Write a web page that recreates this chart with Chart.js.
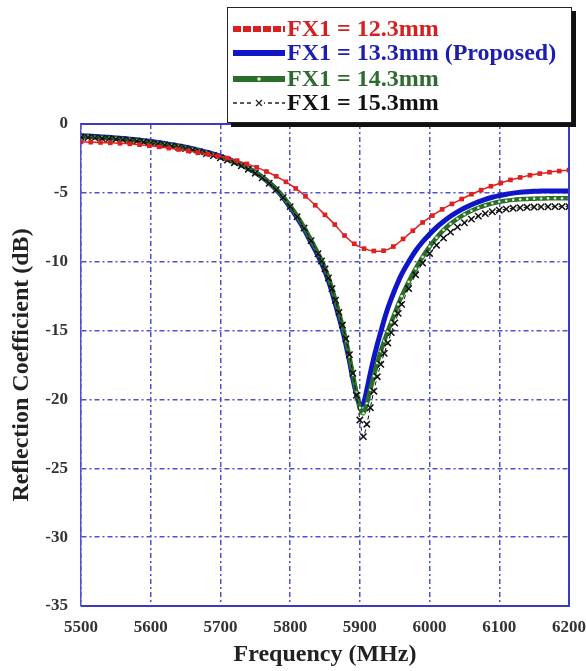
<!DOCTYPE html>
<html>
<head>
<meta charset="utf-8">
<script src="https://cdn.jsdelivr.net/npm/chart.js@4/dist/chart.umd.min.js"></script>
<style>
  html, body { margin: 0; padding: 0; background: #fff; }
  #wrap { width: 586px; height: 671px; }
</style>
</head>
<body>
<div id="wrap"><canvas id="rc"></canvas></div>
<script>
// series labels
const seriesNames = ['FX1 = 12.3mm', 'FX1 = 13.3mm (Proposed)', 'FX1 = 14.3mm', 'FX1 = 15.3mm'];

// red trace is sampled on its own grid (its square markers are sparser)
const freqRed = [5500,5514,5528,5542,5556,5570,5584,5598,5612,5626,5640,5654,5668,5682,5696,
  5710,5724,5738,5752,5766,5780,5794,5808,5822,5836,5850,5864,5878,5892,5906,5920,5934,5948,
  5962,5976,5990,6004,6018,6032,6046,6060,6074,6088,6102,6116,6130,6144,6158,6172,6186,6200];
const s11_123 = [-1.30,-1.32,-1.34,-1.37,-1.40,-1.44,-1.50,-1.58,-1.66,-1.75,-1.85,-1.96,-2.08,-2.20,-2.33,
  -2.48,-2.66,-2.90,-3.15,-3.45,-3.80,-4.20,-4.68,-5.25,-5.90,-6.60,-7.30,-8.10,-8.70,-9.05,-9.22,-9.20,-8.90,
  -8.35,-7.75,-7.15,-6.65,-6.20,-5.80,-5.45,-5.10,-4.80,-4.52,-4.28,-4.06,-3.88,-3.72,-3.60,-3.50,-3.42,-3.35];

// the other three share a grid, denser around the resonance
const freq = [5500,5510,5520,5530,5540,5550,5560,5570,5580,5590,5600,5610,5620,5630,5640,5650,5660,5670,5680,5690,
  5700,5710,5720,5730,5740,5750,5760,5770,5780,5790,5800,5810,5820,5830,5840,
  5845,5850,5855,5860,5865,5870,5875,5880,5885,5890,5895,5900,5905,5910,5915,5920,5925,5930,5935,5940,5945,5950,5955,5960,
  5970,5980,5990,6000,6010,6020,6030,6040,6050,6060,6070,6080,6090,6100,6110,6120,6130,6140,6150,6160,6170,6180,6190,6200];

const s11_133 = [-0.85,-0.88,-0.91,-0.94,-0.97,-1.01,-1.05,-1.10,-1.15,-1.21,-1.27,-1.34,-1.42,-1.50,-1.59,-1.69,-1.80,-1.92,-2.05,-2.19,
  -2.35,-2.53,-2.73,-2.96,-3.22,-3.52,-3.87,-4.28,-4.76,-5.35,-6.05,-6.80,-7.65,-8.60,-9.55,
  -10.10,-10.70,-11.40,-12.20,-13.10,-14.00,-14.95,-16.00,-17.20,-18.50,-19.60,-20.40,-20.30,-19.30,-18.10,-17.00,-16.00,-15.10,-14.20,-13.40,-12.70,-12.05,-11.45,-10.90,
  -10.00,-9.20,-8.55,-8.00,-7.50,-7.08,-6.70,-6.38,-6.10,-5.86,-5.65,-5.47,-5.32,-5.20,-5.10,-5.02,-4.96,-4.92,-4.89,-4.87,-4.86,-4.86,-4.86,-4.86];

const s11_143 = [-0.90,-0.93,-0.96,-0.99,-1.02,-1.06,-1.10,-1.15,-1.20,-1.26,-1.32,-1.39,-1.47,-1.55,-1.64,-1.74,-1.85,-1.97,-2.10,-2.24,
  -2.40,-2.57,-2.76,-2.98,-3.23,-3.52,-3.86,-4.25,-4.72,-5.28,-5.95,-6.68,-7.50,-8.42,-9.38,
  -9.90,-10.48,-11.15,-11.93,-12.80,-13.70,-14.65,-15.70,-16.90,-18.20,-19.50,-20.60,-21.00,-20.30,-19.30,-18.30,-17.35,-16.50,-15.75,-15.05,-14.40,-13.75,-13.10,-12.50,
  -11.45,-10.50,-9.65,-8.90,-8.25,-7.70,-7.25,-6.88,-6.56,-6.30,-6.08,-5.90,-5.76,-5.65,-5.57,-5.51,-5.47,-5.44,-5.42,-5.41,-5.40,-5.40,-5.40,-5.40];

const s11_153 = [-0.95,-0.98,-1.01,-1.04,-1.07,-1.11,-1.15,-1.20,-1.25,-1.31,-1.37,-1.44,-1.52,-1.60,-1.69,-1.79,-1.90,-2.02,-2.15,-2.29,
  -2.45,-2.62,-2.81,-3.03,-3.28,-3.57,-3.91,-4.30,-4.77,-5.33,-6.00,-6.73,-7.55,-8.47,-9.42,
  -9.95,-10.52,-11.18,-11.95,-12.80,-13.68,-14.60,-15.60,-16.75,-18.10,-19.70,-21.50,-22.70,-21.80,-20.60,-19.40,-18.35,-17.45,-16.65,-15.90,-15.15,-14.45,-13.75,-13.10,
  -11.95,-10.95,-10.10,-9.40,-8.80,-8.28,-7.85,-7.48,-7.17,-6.91,-6.69,-6.51,-6.37,-6.26,-6.18,-6.12,-6.08,-6.05,-6.03,-6.02,-6.01,-6.00,-6.00,-6.00];

const xTicks = [5500,5600,5700,5800,5900,6000,6100,6200];
const yTicks = [0,-5,-10,-15,-20,-25,-30,-35];

const pts = (xs, ys) => xs.map((x, i) => ({x: x, y: ys[i]}));

const serif = '"Liberation Serif", "Times New Roman", serif';
const gridBlue = '#4f4fd4';
const frameBlue = '#3a3ac4';
const gridDash = [5, 3, 2, 3];
const textColors = ['#d42020', '#1d1db0', '#2f6a2f', '#111111'];

// solid frame on top/right/bottom, the left one stays dash-dot like the grid
const framePlugin = {
  id: 'frame',
  afterDatasetsDraw(chart) {
    const {ctx, chartArea: a} = chart;
    ctx.save();
    ctx.strokeStyle = frameBlue;
    ctx.lineWidth = 2;
    ctx.beginPath();
    ctx.moveTo(a.left, a.top);
    ctx.lineTo(a.right, a.top);
    ctx.lineTo(a.right, a.bottom);
    ctx.lineTo(a.left, a.bottom);
    ctx.stroke();
    ctx.restore();
  }
};

// boxed legend with drop shadow, sitting above the top right of the plot
const legendPlugin = {
  id: 'boxLegend',
  afterDraw(chart) {
    const {ctx, chartArea: a} = chart;
    const w = 345, h = 116;
    const x0 = a.right + 3 - w, y0 = a.top - 1 - h;
    ctx.save();
    ctx.fillStyle = '#111';
    ctx.fillRect(x0 + 4, y0 + 4, w, h);
    ctx.fillStyle = '#fff';
    ctx.fillRect(x0, y0, w, h);
    ctx.strokeStyle = '#222';
    ctx.lineWidth = 1;
    ctx.strokeRect(x0 + 0.5, y0 + 0.5, w - 1, h - 1);

    const rows = [22, 46, 72, 96];
    const sx0 = x0 + 6, sx1 = x0 + 58;
    ctx.font = 'bold 24px ' + serif;
    ctx.textBaseline = 'middle';
    chart.data.datasets.forEach((ds, i) => {
      const y = y0 + rows[i];
      ctx.save();
      ctx.beginPath();
      ctx.moveTo(sx0, y);
      ctx.lineTo(sx1, y);
      if (i === 0) { ctx.strokeStyle = '#dd1f1f'; ctx.lineWidth = 6; ctx.setLineDash([8, 2]); }
      if (i === 1) { ctx.strokeStyle = '#0f16c8'; ctx.lineWidth = 6; }
      if (i === 2) { ctx.strokeStyle = '#2a6e2a'; ctx.lineWidth = 6; }
      if (i === 3) { ctx.strokeStyle = '#222'; ctx.lineWidth = 1.3; ctx.setLineDash([4, 3]); }
      ctx.stroke();
      ctx.setLineDash([]);
      const mx = (sx0 + sx1) / 2;
      if (i === 2) {
        ctx.fillStyle = '#e8f6dc';
        ctx.beginPath();
        ctx.arc(mx, y, 1.8, 0, Math.PI * 2);
        ctx.fill();
      }
      if (i === 3) {
        ctx.fillStyle = '#fff';
        ctx.fillRect(mx - 5, y - 5, 10, 10);
        ctx.beginPath();
        ctx.moveTo(mx - 3, y - 3); ctx.lineTo(mx + 3, y + 3);
        ctx.moveTo(mx + 3, y - 3); ctx.lineTo(mx - 3, y + 3);
        ctx.stroke();
      }
      ctx.restore();
      ctx.fillStyle = textColors[i];
      ctx.fillText(ds.label, sx1 + 2, y + 1);
    });
    ctx.restore();
  }
};

new Chart(document.getElementById('rc'), {
  type: 'line',
  data: {
    datasets: [
      {
        label: seriesNames[0], data: pts(freqRed, s11_123), order: 0,
        borderColor: '#e02020', borderWidth: 1.5,
        pointStyle: 'rect', pointRadius: 3.3, pointBackgroundColor: '#e02020', pointBorderWidth: 0
      },
      {
        label: seriesNames[1], data: pts(freq, s11_133), order: 3,
        borderColor: '#0f16c8', borderWidth: 5, pointRadius: 0
      },
      {
        label: seriesNames[2], data: pts(freq, s11_143), order: 2,
        borderColor: '#2a6e2a', borderWidth: 4.5,
        pointStyle: 'circle', pointRadius: 1.3, pointBackgroundColor: '#d9eec9', pointBorderWidth: 0
      },
      {
        label: seriesNames[3], data: pts(freq, s11_153), order: 1,
        borderColor: '#111', borderWidth: 1, borderDash: [4, 3],
        pointStyle: 'crossRot', pointRadius: 4.5, pointBorderColor: '#111', pointBorderWidth: 1.5
      }
    ]
  },
  options: {
    responsive: true,
    maintainAspectRatio: false,
    animation: false,
    devicePixelRatio: 1,
    layout: { padding: { top: 124, right: 0, left: 0, bottom: 0 } },
    plugins: { legend: { display: false }, tooltip: { enabled: false } },
    elements: { line: { tension: 0.3, fill: false } },
    scales: {
      x: {
        type: 'linear', min: 5500, max: 6200,
        afterFit(s) { s.height = 65; s.paddingRight = 17; s.paddingLeft = 0; },
        afterBuildTicks(s) { s.ticks = xTicks.map(v => ({value: v})); },
        ticks: {
          padding: 11, color: '#333',
          font: { family: serif, size: 17, weight: 'bold' },
          callback: v => String(v)
        },
        grid: { color: gridBlue, lineWidth: 1.5, drawTicks: false },
        border: { display: false, dash: gridDash },
        title: {
          display: true, text: 'Frequency (MHz)', color: '#222',
          font: { family: serif, size: 24, weight: 'bold' },
          padding: { top: 0, bottom: 2 }
        }
      },
      y: {
        min: -35, max: 0,
        afterFit(s) { s.width = 81; },
        afterBuildTicks(s) { s.ticks = yTicks.map(v => ({value: v})); },
        ticks: {
          padding: 13, color: '#333',
          font: { family: serif, size: 17, weight: 'bold' },
          callback: v => String(v)
        },
        grid: { color: gridBlue, lineWidth: 1.5, drawTicks: false },
        border: { display: true, color: gridBlue, width: 1.5, dash: gridDash },
        title: {
          display: true, text: 'Reflection Coefficient (dB)', color: '#222',
          font: { family: serif, size: 24, weight: 'bold' },
          padding: { top: 7, bottom: 0 }
        }
      }
    }
  },
  plugins: [framePlugin, legendPlugin]
});
</script>
</body>
</html>
